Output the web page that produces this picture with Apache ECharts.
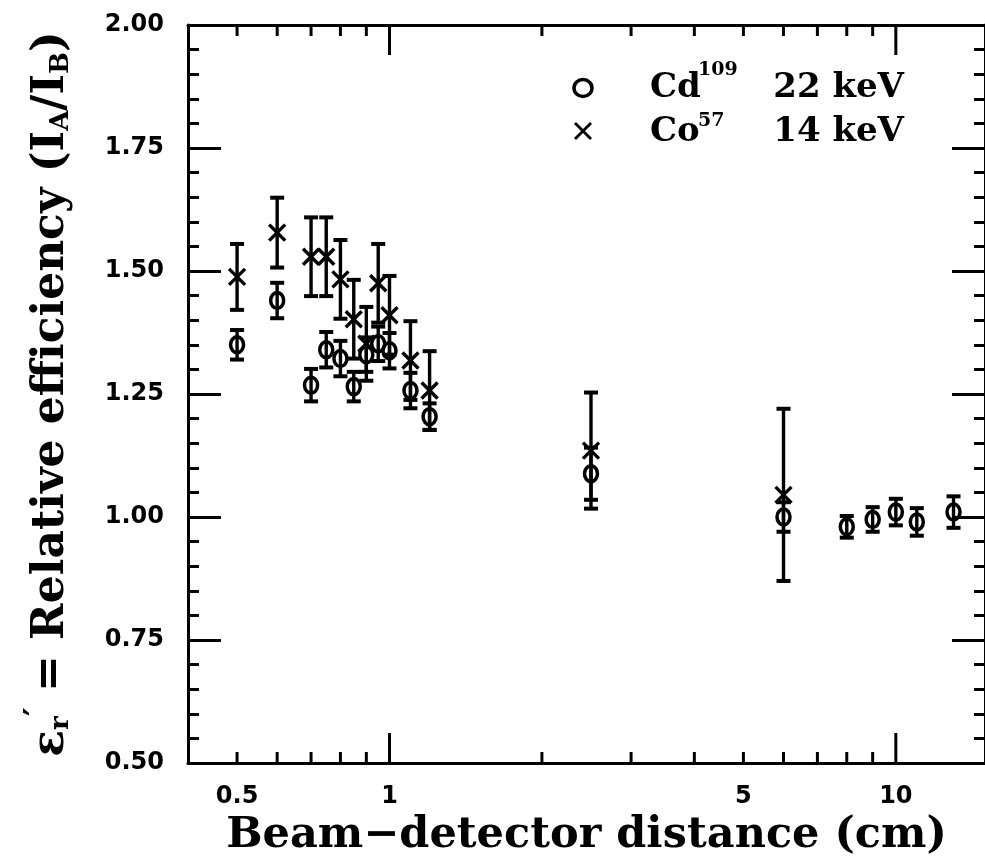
<!DOCTYPE html>
<html><head><meta charset="utf-8">
<script src="https://cdn.jsdelivr.net/npm/echarts@6/dist/echarts.min.js"></script>
<style>html,body{margin:0;padding:0;background:#fff}#c{width:985px;height:865px}</style>
</head><body><div id="c"></div>
<script>
// Cd109 22 keV (open circles)
const cdX   = [0.5, 0.6, 0.7, 0.75, 0.8, 0.85, 0.9, 0.95, 1.0, 1.1, 1.2, 2.5, 6.0, 8.0, 9.0, 10.0, 11.0, 13.0];
const cdY   = [1.35, 1.44, 1.268, 1.34, 1.322, 1.265, 1.33, 1.352, 1.338, 1.257, 1.204, 1.088, 1.0, 0.98, 0.995, 1.01, 0.99, 1.01];
const cdErr = [0.03, 0.036, 0.033, 0.036, 0.036, 0.03, 0.035, 0.035, 0.036, 0.036, 0.027, 0.053, 0.03, 0.022, 0.025, 0.027, 0.028, 0.032];
// Co57 14 keV (crosses)
const coX   = [0.5, 0.6, 0.7, 0.75, 0.8, 0.85, 0.9, 0.95, 1.0, 1.1, 1.2, 2.5, 6.0];
const coY   = [1.488, 1.578, 1.529, 1.529, 1.483, 1.402, 1.352, 1.475, 1.41, 1.318, 1.257, 1.135, 1.045];
const coErr = [0.067, 0.071, 0.08, 0.08, 0.08, 0.08, 0.075, 0.08, 0.08, 0.08, 0.08, 0.118, 0.175];
// axes
const xMin = 0.4, xMax = 15;
const yMin = 0.5, yMax = 2.0, yStep = 0.25;
const xLabelValues = [0.5, 1, 5, 10];
const xMajorTicks = [1, 10];
const xMinorTicks = [0.5, 0.6, 0.7, 0.8, 0.9, 2, 3, 4, 5, 6, 7, 8, 9];

const chart = echarts.init(document.getElementById('c'));
const K = '#000';

function tickItem(params, api) {
  const v = api.value(0), major = api.value(1);
  const len = major ? 30 : 11;
  const b = api.coord([v, yMin]), t = api.coord([v, yMax]);
  return {type: 'group', children: [
    {type: 'line', shape: {x1: b[0], y1: b[1], x2: b[0], y2: b[1] - len}, style: {stroke: K, lineWidth: 3}},
    {type: 'line', shape: {x1: t[0], y1: t[1], x2: t[0], y2: t[1] + len}, style: {stroke: K, lineWidth: 3}}
  ]};
}
function pointItem(kind) {
  return function (params, api) {
    const x = api.value(0), y = api.value(1), e = api.value(2);
    const c = api.coord([x, y]), t = api.coord([x, y + e]), b = api.coord([x, y - e]);
    const cap = 7;
    const ch = [
      {type: 'line', shape: {x1: c[0], y1: t[1], x2: c[0], y2: b[1]}, style: {stroke: K, lineWidth: 3.4}},
      {type: 'line', shape: {x1: c[0] - cap, y1: t[1], x2: c[0] + cap, y2: t[1]}, style: {stroke: K, lineWidth: 4}},
      {type: 'line', shape: {x1: c[0] - cap, y1: b[1], x2: c[0] + cap, y2: b[1]}, style: {stroke: K, lineWidth: 4}}
    ];
    if (kind === 'circle') {
      ch.push({type: 'ellipse', shape: {cx: c[0], cy: c[1], rx: 6.5, ry: 8}, style: {stroke: K, fill: 'none', lineWidth: 3.5}});
    } else {
      const h = 8;
      ch.push({type: 'line', shape: {x1: c[0] - h, y1: c[1] - h, x2: c[0] + h, y2: c[1] + h}, style: {stroke: K, lineWidth: 3.4}});
      ch.push({type: 'line', shape: {x1: c[0] - h, y1: c[1] + h, x2: c[0] + h, y2: c[1] - h}, style: {stroke: K, lineWidth: 3.4}});
    }
    return {type: 'group', children: ch};
  };
}

const tickData = xMajorTicks.map(v => [v, 1]).concat(xMinorTicks.map(v => [v, 0]));
const cdData = cdX.map((x, i) => [x, cdY[i], cdErr[i]]);
const coData = coX.map((x, i) => [x, coY[i], coErr[i]]);

const axLine = {show: true, onZero: false, lineStyle: {color: K, width: 3}};
const tickFont = {fontFamily: 'DejaVu Sans', fontWeight: 'bold', fontSize: 24, color: K};
const serif = 'DejaVu Serif';

const yBase = {
  type: 'value', min: yMin, max: yMax, interval: yStep,
  axisLine: axLine,
  axisTick: {show: true, inside: true, length: 33, lineStyle: {color: K, width: 3}},
  minorTick: {show: true, splitNumber: 5, length: 11, lineStyle: {color: K, width: 3}},
  splitLine: {show: false}, minorSplitLine: {show: false}
};

chart.setOption({
  animation: false,
  backgroundColor: '#fff',
  grid: {left: 188, top: 25, right: -7, bottom: 102, containLabel: false},
  xAxis: [
    {type: 'log', logBase: 10, min: xMin, max: xMax, position: 'bottom',
     axisLine: axLine, axisTick: {show: false}, splitLine: {show: false},
     axisLabel: Object.assign({customValues: xLabelValues, margin: 22,
       formatter: v => String(+(+v).toPrecision(6))}, tickFont),
     name: 'Beam\u2212detector distance (cm)', nameLocation: 'middle', nameGap: 50,
     nameTextStyle: {fontFamily: serif, fontWeight: 'bold', fontSize: 43, color: K}},
    {type: 'log', logBase: 10, min: xMin, max: xMax, position: 'top',
     axisLine: axLine, axisTick: {show: false}, axisLabel: {show: false}, splitLine: {show: false}}
  ],
  yAxis: [
    Object.assign({}, yBase, {position: 'left',
      axisLabel: Object.assign({margin: 24, formatter: v => v.toFixed(2)}, tickFont),
      name: '{t|\u03b5}{sub|r}{sup|\u2032}{t| = Relative efficiency (I}{sub|A}{t|/I}{sub|B}{t|)}',
      nameLocation: 'middle', nameGap: 114,
      nameTextStyle: {color: K, rich: {
        t: {fontFamily: serif, fontWeight: 'bold', fontSize: 44, color: K, lineHeight: 52, verticalAlign: 'bottom'},
        sub: {fontFamily: serif, fontWeight: 'bold', fontSize: 26, color: K, lineHeight: 24, verticalAlign: 'bottom'},
        sup: {fontFamily: serif, fontWeight: 'bold', fontSize: 34, color: K, lineHeight: 34, verticalAlign: 'top'}
      }}}),
    Object.assign({}, yBase, {position: 'right', axisLabel: {show: false}})
  ],
  series: [
    {type: 'custom', name: 'ticks', xAxisIndex: 0, yAxisIndex: 0, renderItem: tickItem, data: tickData, silent: true, clip: false},
    {type: 'custom', name: 'Cd109 22 keV', xAxisIndex: 0, yAxisIndex: 0, renderItem: pointItem('circle'), data: cdData, clip: false},
    {type: 'custom', name: 'Co57 14 keV', xAxisIndex: 0, yAxisIndex: 0, renderItem: pointItem('cross'), data: coData, clip: false}
  ],
  graphic: [
    {type: 'ellipse', shape: {cx: 583, cy: 88, rx: 9, ry: 8.5}, style: {stroke: K, fill: 'none', lineWidth: 3.5}},
    {type: 'line', shape: {x1: 575, y1: 123, x2: 591, y2: 139}, style: {stroke: K, lineWidth: 2.8}},
    {type: 'line', shape: {x1: 575, y1: 139, x2: 591, y2: 123}, style: {stroke: K, lineWidth: 2.8}},
    {type: 'text', style: {text: 'Cd', x: 650, y: 105, fontFamily: serif, fontWeight: 'bold', fontSize: 34, fill: K, verticalAlign: 'bottom'}},
    {type: 'text', style: {text: '109', x: 698, y: 70, fontFamily: serif, fontWeight: 'bold', fontSize: 19, fill: K, verticalAlign: 'middle'}},
    {type: 'text', style: {text: '22 keV', x: 904, y: 105, fontFamily: serif, fontWeight: 'bold', fontSize: 34, fill: K, align: 'right', verticalAlign: 'bottom'}},
    {type: 'text', style: {text: 'Co', x: 650, y: 149, fontFamily: serif, fontWeight: 'bold', fontSize: 34, fill: K, verticalAlign: 'bottom'}},
    {type: 'text', style: {text: '57', x: 698, y: 121, fontFamily: serif, fontWeight: 'bold', fontSize: 19, fill: K, verticalAlign: 'middle'}},
    {type: 'text', style: {text: '14 keV', x: 904, y: 149, fontFamily: serif, fontWeight: 'bold', fontSize: 34, fill: K, align: 'right', verticalAlign: 'bottom'}}
  ]
});
</script></body></html>
